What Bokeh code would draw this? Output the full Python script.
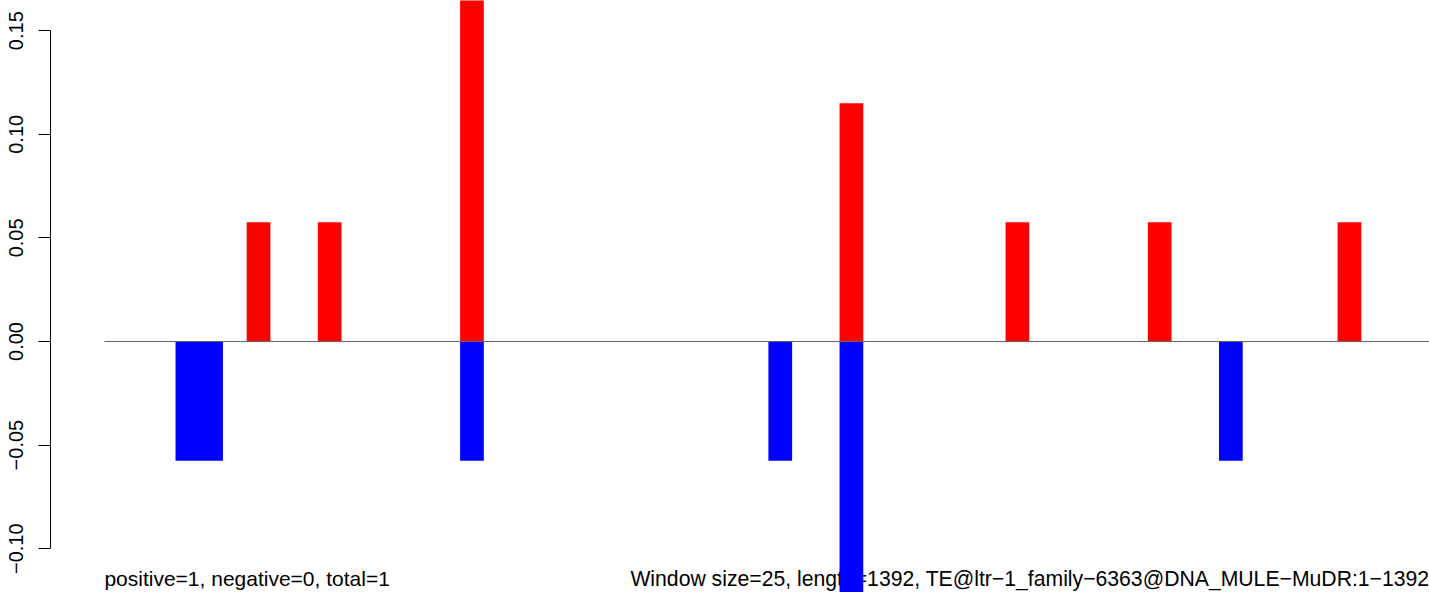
from bokeh.plotting import figure
from bokeh.models import Range1d, LinearAxis, FixedTicker
from bokeh.embed import file_html
from bokeh.resources import INLINE
from bokeh.core.properties import value

# ---- data ----
WINDOW = 25
LENGTH = 1392
pos_starts = [150, 225, 375, 775, 950, 1100, 1300]
pos_windows = [1, 1, 1, 1, 1, 1, 1]
pos_values = [0.0575, 0.0575, 0.1725, 0.115, 0.0575, 0.0575, 0.0575]
neg_starts = [75, 375, 700, 775, 1175]
neg_windows = [2, 1, 1, 1, 1]
neg_values = [-0.0575, -0.0575, -0.0575, -0.1725, -0.0575]
y_ticks = [-0.10, -0.05, 0.00, 0.05, 0.10, 0.15]
y_tick_labels = ["\u22120.10", "\u22120.05", "0.00", "0.05", "0.10", "0.15"]
left_text = "positive=1, negative=0, total=1"
right_text = "Window size=25, length=1392, TE@ltr\u22121_family\u22126363@DNA_MULE\u2212MuDR:1\u22121392"

# ---- layout ----
X0, X1 = -56.8, 1396.9
Y0, Y1 = -0.12114, 0.16457
TEXT_Y = -0.11438
FONT = "Liberation Sans"

p = figure(width=1429, height=592, x_range=Range1d(X0, X1), y_range=Range1d(Y0, Y1),
           x_axis_location=None, y_axis_location=None, toolbar_location=None,
           output_backend="svg", min_border_left=50, min_border_right=0,
           min_border_top=0, min_border_bottom=0)
p.grid.visible = False
p.outline_line_color = None
p.background_fill_color = "white"
p.border_fill_color = "white"

axis = LinearAxis(ticker=FixedTicker(ticks=y_ticks), bounds=(-0.10, 0.15),
                  major_label_overrides=dict(zip(y_ticks, y_tick_labels)),
                  major_tick_out=12, major_tick_in=0, minor_tick_out=0, minor_tick_in=0,
                  major_label_orientation="vertical",
                  major_label_text_font=FONT, major_label_text_font_size="20px",
                  major_label_text_color="black", major_label_standoff=15,
                  axis_line_color="black", major_tick_line_color="black")
p.add_layout(axis, "left")

# texts (under the bars)
p.text(x=[0], y=[TEXT_Y], text=[left_text], text_font=value(FONT), text_font_size="21px",
       text_baseline="alphabetic", text_align="left", text_color="black")
p.text(x=[X1], y=[TEXT_Y], text=[right_text], text_font=value(FONT), text_font_size="21.2px",
       text_baseline="alphabetic", text_align="right", text_color="black")

# bars
p.quad(left=pos_starts, right=[s + n * WINDOW for s, n in zip(pos_starts, pos_windows)],
       bottom=0, top=pos_values, fill_color="#FF0000", line_color=None)
p.quad(left=neg_starts, right=[s + n * WINDOW for s, n in zip(neg_starts, neg_windows)],
       bottom=0, top=neg_values, fill_color="#0000FF", line_color=None)

# zero line
p.segment(x0=[0], y0=[0], x1=[LENGTH + WINDOW], y1=[0], line_color="#666666", line_width=1)

open("out.html", "w").write(file_html(p, INLINE))
